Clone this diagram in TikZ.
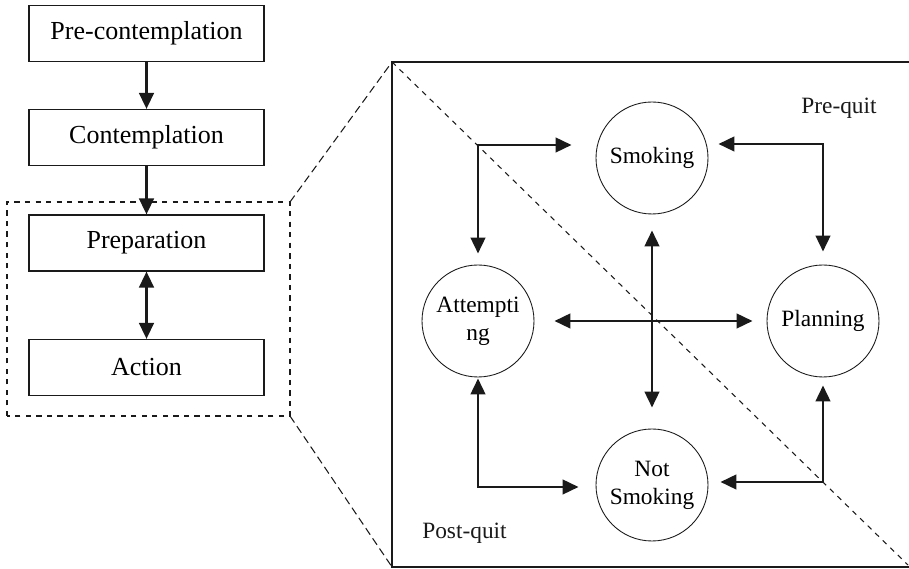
\documentclass[tikz,border=0pt]{standalone}
\usepackage{fontspec}
\setmainfont{Liberation Serif}
\usetikzlibrary{arrows.meta,positioning}
\definecolor{Ink}{HTML}{1A1A1A}
\definecolor{Paper}{HTML}{FFFFFF}

\begin{document}
\begin{tikzpicture}[
  stage/.style={draw=Ink,line width=0.6pt,minimum width=4.7cm,minimum height=1.12cm,inner sep=0pt,font=\fontsize{14.8}{17}\selectfont},
  state/.style={circle,draw=Ink,line width=0.5pt,minimum size=2.24cm,inner sep=0pt,align=center,font=\fontsize{13.3}{16}\selectfont},
  link/.style={draw=Ink,line width=1.6pt,-{Triangle[length=0.32cm,width=0.29cm]}},
  twoway/.style={link,{Triangle[length=0.32cm,width=0.29cm]}-{Triangle[length=0.32cm,width=0.29cm]}},
  zoomline/.style={draw=Ink,dash pattern=on 4.5pt off 2.5pt,line width=0.6pt},
  phase/.style={font=\fontsize{13.3}{16}\selectfont,text=Ink}
]
\fill[Paper] (0,0) rectangle (18.18,11.38);
\useasboundingbox (0,0) rectangle (18.18,11.38);
% stages of change
\node[stage] (pre) at (2.93,10.71) {Pre-contemplation};
\node[stage] (con) at (2.93,8.63) {Contemplation};
\node[stage] (prep) at (2.93,6.52) {Preparation};
\node[stage] (act) at (2.93,4.03) {Action};
\draw[link] (pre) -- (con);
\draw[link] (con) -- (prep);
\draw[twoway] (prep) -- (act);
% zoom frame
\coordinate (zsw) at (0.14,3.06); \coordinate (zne) at (5.80,7.34);
\coordinate (zse) at (5.80,3.06);
\coordinate (tl) at (7.84,10.14); \coordinate (bl) at (7.84,0.04);
\coordinate (tr) at (18.18,10.14); \coordinate (br) at (18.18,0.04);
\draw[draw=Ink,dashed,line width=0.6pt] (zsw) rectangle (zne);
\draw[zoomline] (zne) -- (tl);
\draw[zoomline] (zse) -- (bl);
\draw[draw=Ink,line width=0.8pt] (tr) -- (tl) -- (bl) -- (br);
\draw[draw=Ink,dashed,line width=0.6pt] (tl) -- (18.16,0.08);
\node[phase] (prequit) at (16.78,9.22) {Pre-quit};
\node[phase] (postquit) at (9.29,0.72) {Post-quit};
% smoking states
\node[state] (smk) at (13.04,8.22) {Smoking};
\node[state] (att) at (9.56,4.96) {Attempti\\ng};
\node[state] (plan) at (16.46,4.96) {Planning};
\node[state] (nsm) at (13.04,1.68) {Not\\Smoking};
\draw[twoway] ([yshift=0.22cm]att.north) |- ([xshift=-0.48cm,yshift=0.26cm]smk.west);
\draw[twoway] ([xshift=0.2cm,yshift=0.28cm]smk.east) -| ([yshift=0.26cm]plan.north);
\draw[twoway] ([yshift=-0.16cm]plan.south) |- ([xshift=0.24cm,yshift=0.06cm]nsm.east);
\draw[twoway] ([yshift=-0.02cm]att.south) |- ([xshift=-0.34cm,yshift=-0.04cm]nsm.west);
\draw[twoway] ([xshift=0.4cm]att.east) -- ([xshift=-0.28cm]plan.west);
\draw[twoway] ([yshift=-0.32cm]smk.south) -- ([yshift=0.42cm]nsm.north);
\end{tikzpicture}
\end{document}
